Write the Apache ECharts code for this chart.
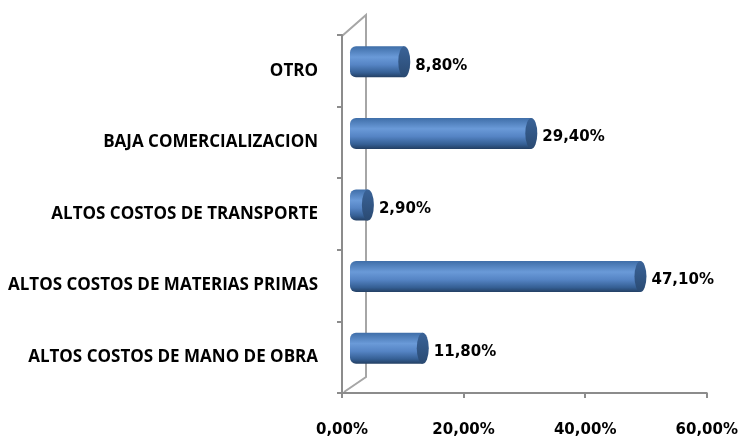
<!DOCTYPE html>
<html>
<head>
<meta charset="utf-8">
<script src="https://cdn.jsdelivr.net/npm/echarts@6/dist/echarts.min.js"></script>
<style>
  html, body { margin: 0; padding: 0; background: #fff; }
  #chart { width: 741px; height: 439px; }
</style>
</head>
<body>
<div id="chart"></div>
<script>
// datos (de abajo hacia arriba)
const categories = [
  'ALTOS COSTOS DE MANO DE OBRA',
  'ALTOS COSTOS DE MATERIAS PRIMAS',
  'ALTOS COSTOS DE TRANSPORTE',
  'BAJA COMERCIALIZACION',
  'OTRO'
]
const values = [11.8, 47.1, 2.9, 29.4, 8.8]
const xTicks = [0, 20, 40, 60]

const fmt = v => v.toFixed(2).replace('.', ',') + '%'

const mycharts = echarts.init(document.getElementById('chart'))
mycharts.setOption({
  animation: false,
  grid: [
    { left: 342, right: 33, top: 35, bottom: 46 },
    { left: 350, right: 21, top: 26, bottom: 55 }
  ],
  xAxis: [
    {
      gridIndex: 0,
      type: 'value',
      min: xTicks[0],
      max: xTicks[xTicks.length - 1],
      interval: 20,
      splitLine: { show: false },
      axisLine: { show: true, lineStyle: { color: '#8c8c8c', width: 2 } },
      axisTick: { show: true, length: 5, lineStyle: { color: '#8c8c8c', width: 2 } },
      axisLabel: {
        margin: 30,
        formatter: v => fmt(v),
        color: '#000',
        fontFamily: 'DejaVu Sans',
        fontWeight: 'bold',
        fontSize: 15
      }
    },
    {
      gridIndex: 1,
      type: 'value',
      min: 0,
      max: 60,
      show: false
    }
  ],
  yAxis: [
    {
      gridIndex: 0,
      type: 'category',
      data: categories,
      axisLine: { show: true, lineStyle: { color: '#8c8c8c', width: 2 } },
      axisTick: { show: true, length: 5, lineStyle: { color: '#8c8c8c', width: 2 } },
      axisLabel: {
        margin: 24,
        color: '#000',
        fontFamily: 'Open Sans',
        fontWeight: 'bold',
        fontSize: 17
      }
    },
    {
      gridIndex: 1,
      type: 'category',
      data: categories,
      show: false
    }
  ],
  // marco 3D
  graphic: [
    { type: 'polyline', z: -1, shape: { points: [[342, 36], [366, 15], [366, 377], [344, 392]] },
      style: { stroke: '#a6a6a6', lineWidth: 2, fill: null } }
  ],
  series: [
    {
      type: 'bar',
      xAxisIndex: 1,
      yAxisIndex: 1,
      data: values,
      barWidth: 31,
      z: 3,
      itemStyle: {
        borderRadius: [6, 0, 0, 6],
        color: new echarts.graphic.LinearGradient(0, 0, 0, 1, [
          { offset: 0, color: '#3f6ea8' },
          { offset: 0.35, color: '#6a9ad8' },
          { offset: 0.6, color: '#5584c4' },
          { offset: 0.85, color: '#355f94' },
          { offset: 1, color: '#233f63' }
        ])
      },
      label: {
        show: true,
        position: 'right',
        distance: 11,
        offset: [0, 4],
        formatter: p => fmt(p.value),
        color: '#000',
        fontFamily: 'DejaVu Sans',
        fontWeight: 'bold',
        fontSize: 15
      }
    },
    {
      type: 'pictorialBar',
      xAxisIndex: 1,
      yAxisIndex: 1,
      data: values,
      symbol: 'circle',
      symbolSize: [12, 31],
      symbolPosition: 'end',
      symbolOffset: ['50%', 0],
      z: 4,
      itemStyle: {
        color: new echarts.graphic.LinearGradient(0, 0, 0, 1, [
          { offset: 0, color: '#3a6398' },
          { offset: 1, color: '#2a4a72' }
        ])
      }
    }
  ]
})
</script>
</body>
</html>
